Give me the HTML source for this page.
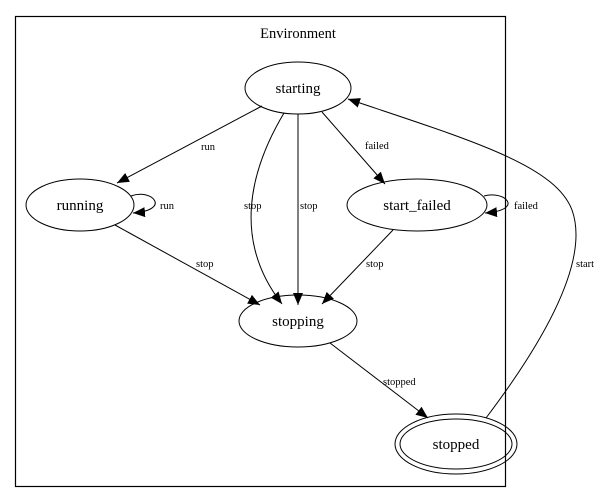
<!DOCTYPE html>
<html><head><meta charset="utf-8"><style>
html,body{margin:0;padding:0;background:#fff}
svg{display:block}
text{font-family:"Liberation Serif",serif;fill:#000}
.n{font-size:15px;text-anchor:middle}
.e{font-size:10.5px}
</style></head><body>
<svg width="604" height="503" viewBox="0 0 604 503">
<defs><marker id="a" markerWidth="12" markerHeight="10" refX="12" refY="5" orient="auto" markerUnits="userSpaceOnUse"><path d="M0,0 L12,5 L0,10 Z" fill="#000"/></marker></defs>
<rect x="15.5" y="16.5" width="490" height="470" fill="none" stroke="#000" stroke-width="1.2"/>
<text x="298" y="38" class="n" style="font-size:14.5px">Environment</text>
<g fill="none" stroke="#000" stroke-width="1">
<ellipse cx="298" cy="88" rx="53" ry="26"/>
<ellipse cx="80" cy="205" rx="54" ry="26"/>
<ellipse cx="417" cy="205" rx="70" ry="26"/>
<ellipse cx="298" cy="321" rx="59" ry="26"/>
<ellipse cx="456" cy="444" rx="61" ry="30"/>
<ellipse cx="456" cy="444" rx="56" ry="25"/>
<path d="M262,106 L117,183" marker-end="url(#a)"/>
<path d="M131,196 C152,188 172,210 133,213" marker-end="url(#a)"/>
<path d="M284,113 C250,170 232,240 282,304" marker-end="url(#a)"/>
<path d="M298,114 L298,305" marker-end="url(#a)"/>
<path d="M322,112 L385,184" marker-end="url(#a)"/>
<path d="M484,196 C505,190 525,210 485,213" marker-end="url(#a)"/>
<path d="M115,225 L260,305" marker-end="url(#a)"/>
<path d="M393,230 L322,304" marker-end="url(#a)"/>
<path d="M330,343 L428,418" marker-end="url(#a)"/>
<path d="M486,418 C545,340 590,260 572,210 C555,165 470,140 348,99" marker-end="url(#a)"/>
</g>
<text x="298" y="93" class="n">starting</text>
<text x="80" y="210" class="n">running</text>
<text x="417" y="210" class="n">start_failed</text>
<text x="298" y="326" class="n">stopping</text>
<text x="456" y="449" class="n">stopped</text>
<text x="201" y="150" class="e">run</text>
<text x="160" y="209" class="e">run</text>
<text x="244" y="209" class="e">stop</text>
<text x="300" y="209" class="e">stop</text>
<text x="365" y="149" class="e">failed</text>
<text x="514" y="209" class="e">failed</text>
<text x="196" y="267" class="e">stop</text>
<text x="366" y="267" class="e">stop</text>
<text x="383" y="385" class="e">stopped</text>
<text x="576" y="267" class="e">start</text>
</svg>
</body></html>
